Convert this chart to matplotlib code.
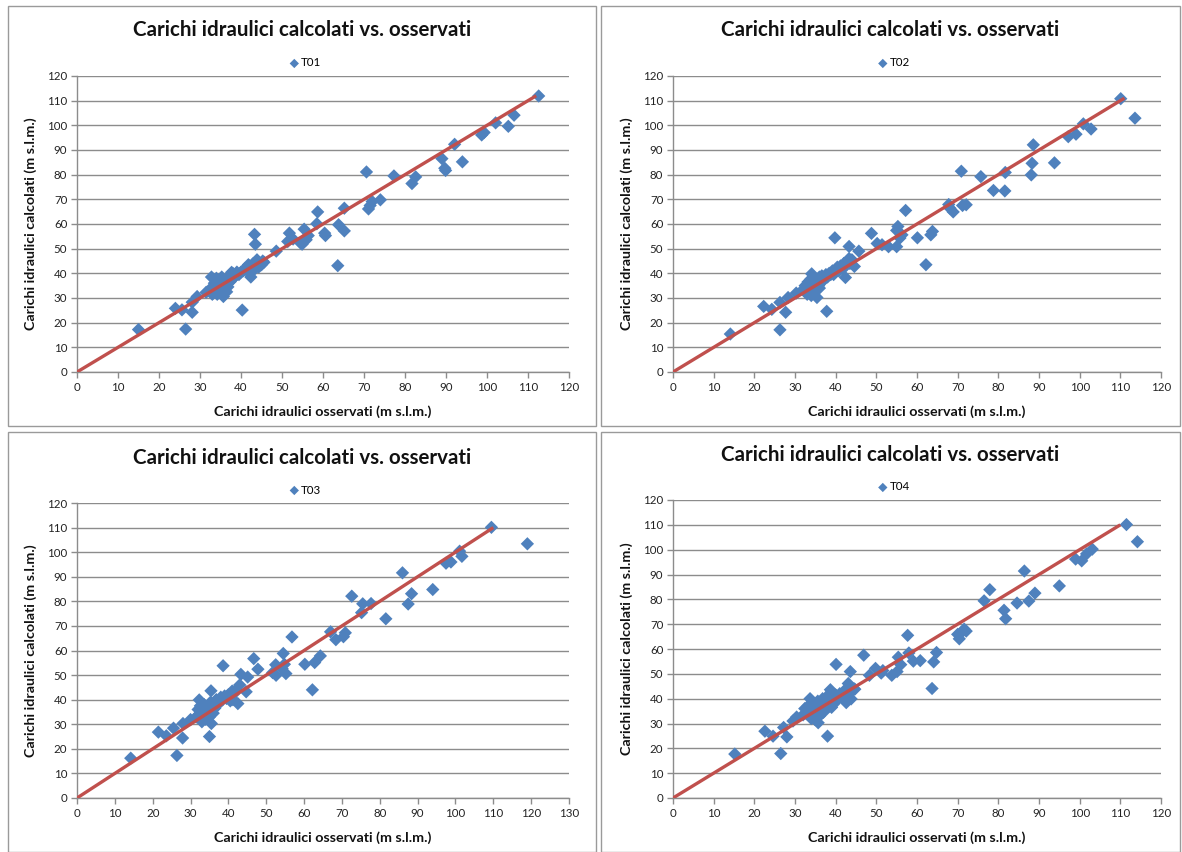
import matplotlib
matplotlib.use("Agg")
import matplotlib.pyplot as plt
from matplotlib.patches import Rectangle

# ---------------- data ----------------
title = "Carichi idraulici calcolati vs. osservati"
xlabel = "Carichi idraulici osservati (m s.l.m.)"
ylabel = "Carichi idraulici calcolati (m s.l.m.)"
series_names = ["T01", "T02", "T03", "T04"]

obs_t01 = [15.0, 24.0, 25.6, 26.5, 28.1, 28.1, 29.3, 31.5, 32.8, 35.7, 37.7, 40.3, 42.4, 41.8,
           43.3, 43.5, 43.9, 48.6, 51.8, 51.4, 52.7, 54.6, 55.4, 54.9, 55.9, 56.4, 58.5, 58.7,
           60.4, 60.6, 63.8, 63.6, 65.2, 65.2, 70.6, 71.1, 71.5, 72.0, 74.0, 77.3, 81.7, 82.6,
           89.0, 89.7, 89.9, 92.1, 94.0, 98.7, 99.3, 102.1, 105.2, 106.6, 112.6,
           32.5, 33.0, 33.2, 33.5, 33.8, 34.0, 34.2, 34.5, 34.8, 35.0, 35.0, 35.3, 35.5, 35.8,
           36.0, 36.2, 36.5, 36.8, 37.0, 37.3, 37.5, 37.8, 38.0, 38.3, 38.7, 39.0, 39.5, 40.0,
           40.5, 41.0, 41.5, 42.0, 42.5, 43.0, 43.2, 43.8, 44.0, 44.3, 44.7, 45.0, 45.3, 45.6,
           34.0, 36.5, 33.0]
calc_t01 = [17.2, 25.8, 25.2, 17.4, 28.3, 24.2, 30.6, 32.3, 38.5, 30.6, 40.4, 25.1, 38.5, 43.5,
            55.8, 51.8, 45.5, 49.0, 56.3, 52.9, 53.9, 52.2, 57.9, 51.8, 53.6, 55.3, 60.1, 64.9,
            56.3, 55.3, 59.7, 43.1, 66.4, 57.2, 81.1, 66.1, 67.5, 69.1, 69.8, 79.5, 76.4, 79.1,
            86.5, 82.6, 81.7, 92.3, 85.2, 96.1, 97.1, 101.0, 99.6, 104.1, 111.9,
            33.0, 34.5, 32.0, 36.0, 33.5, 35.0, 31.5, 37.0, 34.0, 36.5, 32.5, 38.5, 35.0, 33.5,
            37.0, 35.5, 36.0, 34.5, 38.0, 36.5, 39.5, 37.5, 40.0, 38.5, 39.0, 40.5, 39.5, 40.5,
            41.0, 42.0, 41.0, 43.0, 42.0, 44.0, 41.5, 43.0, 45.0, 42.5, 44.0, 43.5, 45.0, 44.5,
            38.0, 32.5, 31.5]

obs_t02 = [14.1, 22.3, 24.3, 26.3, 26.3, 27.7, 28.3, 30.3, 34.1, 35.4, 37.8, 39.8, 42.4, 43.3,
           43.3, 44.6, 45.7, 48.8, 50.2, 51.4, 53.0, 55.0, 55.3, 55.0, 55.8, 56.3, 57.2, 60.1,
           62.2, 63.4, 63.8, 67.8, 68.1, 68.9, 70.9, 71.2, 72.1, 75.7, 78.8, 81.6, 81.7, 88.1,
           88.3, 88.6, 93.8, 97.2, 99.1, 100.9, 102.8, 110.1, 113.6,
           32.0, 32.5, 33.0, 33.2, 33.5, 33.8, 34.0, 34.3, 34.6, 35.0, 35.2, 35.5, 35.8, 36.0,
           36.3, 36.6, 37.0, 37.3, 37.6, 38.0, 38.4, 38.8, 39.2, 39.6, 40.0, 40.4, 40.8, 41.2,
           41.6, 42.0, 42.5, 43.0, 43.5, 44.0, 33.0, 34.0, 35.0, 36.0, 39.5]
calc_t02 = [15.4, 26.6, 25.4, 28.2, 17.1, 24.2, 30.2, 32.0, 39.8, 30.2, 24.6, 54.4, 38.3, 50.9,
            46.0, 42.8, 49.0, 56.2, 52.1, 51.6, 50.8, 50.8, 59.0, 57.4, 54.3, 55.6, 65.5, 54.4,
            43.5, 55.6, 57.0, 67.9, 66.4, 64.9, 81.4, 67.5, 67.8, 79.2, 73.6, 73.4, 80.9, 79.9,
            84.6, 92.1, 84.8, 95.4, 96.4, 100.6, 98.5, 110.8, 102.9,
            33.5, 35.0, 32.0, 36.5, 34.0, 37.5, 33.0, 35.5, 38.0, 34.5, 36.5, 37.0, 35.0, 38.5,
            36.0, 39.0, 37.5, 38.0, 39.5, 38.5, 40.0, 39.5, 41.0, 40.5, 41.5, 42.5, 41.0, 43.0,
            42.0, 44.0, 43.0, 44.5, 44.0, 45.5, 31.5, 31.0, 33.5, 34.0, 39.5]

obs_t03 = [14.2, 21.5, 23.6, 25.5, 26.4, 27.9, 28.0, 30.0, 32.3, 35.5, 35.0, 35.4, 38.6, 42.5,
           43.3, 43.0, 44.7, 45.1, 46.7, 47.8, 51.7, 52.5, 52.6, 54.5, 54.2, 55.2, 54.8, 56.8,
           60.2, 62.2, 62.8, 64.3, 67.0, 68.4, 70.4, 70.9, 72.6, 75.2, 75.5, 77.7, 81.6, 86.0,
           87.5, 88.4, 94.0, 97.5, 98.8, 101.1, 101.7, 109.5, 119.0,
           31.5, 32.0, 32.3, 32.6, 33.0, 33.3, 33.6, 34.0, 34.3, 34.6, 35.0, 35.3, 35.6, 36.0,
           36.4, 36.8, 37.2, 37.6, 38.0, 38.5, 39.0, 39.5, 40.0, 40.5, 41.0, 41.5, 42.0, 33.0,
           34.0, 35.0, 36.0, 40.5, 41.2]
calc_t03 = [16.2, 26.8, 25.3, 28.4, 17.3, 24.4, 30.3, 31.9, 39.9, 30.3, 25.0, 43.6, 53.8, 38.4,
            50.3, 46.0, 43.2, 49.2, 56.7, 52.4, 51.0, 54.2, 49.9, 58.8, 52.6, 50.6, 54.4, 65.5,
            54.4, 44.0, 55.1, 57.8, 67.6, 64.4, 65.6, 67.2, 82.1, 75.4, 79.0, 79.1, 72.9, 91.6,
            78.9, 83.1, 84.8, 95.5, 96.0, 100.4, 98.3, 110.1, 103.4,
            33.0, 36.0, 34.0, 37.5, 32.5, 35.5, 38.0, 33.5, 36.5, 34.5, 37.0, 39.0, 35.5, 38.5,
            36.5, 40.0, 38.0, 39.5, 41.0, 40.0, 41.5, 40.5, 42.0, 41.5, 43.5, 42.5, 44.0, 31.0,
            32.0, 33.0, 34.5, 39.5, 40.0]

obs_t04 = [15.2, 22.6, 24.6, 26.5, 27.2, 28.0, 29.5, 30.4, 33.7, 35.7, 38.0, 38.7, 40.1, 42.6,
           43.1, 43.6, 43.8, 44.7, 46.9, 48.3, 49.8, 51.2, 51.6, 53.8, 55.1, 55.4, 56.0, 57.7,
           58.0, 59.1, 60.8, 63.7, 64.1, 64.8, 70.0, 70.4, 70.9, 71.6, 72.1, 76.5, 77.9, 81.4,
           81.8, 84.6, 86.4, 87.5, 89.0, 95.0, 99.0, 100.5, 101.7, 103.1, 111.5, 114.2,
           32.0, 32.4, 32.8, 33.2, 33.6, 34.0, 34.4, 34.8, 35.2, 35.6, 36.0, 36.4, 36.8, 37.2,
           37.6, 38.0, 38.4, 38.8, 39.2, 39.6, 40.0, 40.5, 41.0, 41.5, 42.0, 42.5, 43.5, 44.0,
           44.5, 34.0, 35.0, 36.0, 37.0, 38.5, 39.0]
calc_t04 = [17.7, 26.9, 24.9, 17.9, 28.4, 24.6, 31.0, 32.6, 40.0, 30.3, 24.9, 43.6, 53.8, 38.4,
            46.1, 50.9, 39.9, 43.8, 57.5, 49.4, 52.2, 50.3, 51.3, 49.4, 50.9, 56.7, 53.7, 65.5,
            58.4, 55.1, 55.3, 44.1, 54.8, 58.6, 65.9, 64.1, 66.6, 68.0, 67.2, 79.4, 83.9, 75.6,
            72.2, 78.5, 91.4, 79.3, 82.5, 85.4, 96.2, 95.5, 98.3, 100.2, 110.1, 103.2,
            33.5, 36.0, 34.0, 37.0, 35.0, 33.0, 38.0, 36.5, 34.5, 39.0, 37.5, 35.5, 40.0, 38.5,
            36.5, 41.0, 39.0, 42.5, 40.5, 38.0, 41.5, 40.0, 42.0, 41.0, 43.0, 42.0, 44.5, 43.5,
            44.0, 32.0, 31.5, 33.0, 34.5, 37.0, 36.5]

line_end = [112, 111, 110, 110]
x_max = [120, 120, 130, 120]
y_max = [120, 120, 120, 120]

obs_all = [obs_t01, obs_t02, obs_t03, obs_t04]
calc_all = [calc_t01, calc_t02, calc_t03, calc_t04]

# ---------------- layout ----------------
W, H = 1182, 852
fig = plt.figure(figsize=(W / 100, H / 100), dpi=100)
fig.patch.set_facecolor("white")

FONT = "Lato"
BLUE = "#4F81BD"
RED = "#C0504D"
GRID = "#8C8C8C"

def frac_box(l, t, r, b):
    return [l / W, 1 - b / H, (r - l) / W, (b - t) / H]

panel_boxes = [(8, 6, 596, 426), (601, 6, 1180, 426), (8, 432, 596, 852), (601, 432, 1180, 852)]
axes_boxes = [(77, 76, 569, 372), (673, 76, 1161, 372), (77, 503, 569, 798), (673, 500, 1161, 798)]
title_y = [30, 30, 458, 455]
legend_y = [63, 63, 490, 487]

for i in range(4):
    pl, pt, pr, pb = panel_boxes[i]
    fig.add_artist(Rectangle((pl / W, 1 - pb / H), (pr - pl) / W, (pb - pt) / H,
                             transform=fig.transFigure, fill=False, edgecolor="#9A9A9A",
                             linewidth=1.0))
    l, t, r, b = axes_boxes[i]
    ax = fig.add_axes(frac_box(l, t, r, b))
    ax.set_xlim(0, x_max[i])
    ax.set_ylim(0, y_max[i])
    ax.set_xticks(range(0, x_max[i] + 1, 10))
    ax.set_yticks(range(0, y_max[i] + 1, 10))
    ax.grid(axis="y", color=GRID, linewidth=1.0)
    ax.set_axisbelow(True)
    for s in ["top", "right"]:
        ax.spines[s].set_visible(False)
    for s in ["left", "bottom"]:
        ax.spines[s].set_color(GRID)
        ax.spines[s].set_linewidth(1.0)
    ax.tick_params(axis="both", direction="out", length=4, width=1.0, color=GRID,
                   labelsize=8.3, labelcolor="#222222", pad=3)
    for lab in ax.get_xticklabels() + ax.get_yticklabels():
        lab.set_family(FONT)

    sc = ax.scatter(obs_all[i], calc_all[i], marker="D", s=46, color=BLUE,
                    edgecolors="none", zorder=3, label=series_names[i])
    ax.plot([0, line_end[i]], [0, line_end[i]], color=RED, linewidth=2.4, zorder=4,
            solid_capstyle="butt")

    ax.set_xlabel(xlabel, fontsize=10.3, fontweight="bold", family=FONT, labelpad=9,
                  color="#111111")
    ax.set_ylabel(ylabel, fontsize=10.3, fontweight="bold", family=FONT, labelpad=7,
                  color="#111111")

    cx = (pl + pr) / 2
    fig.text(cx / W, 1 - title_y[i] / H, title, ha="center", va="center",
             fontsize=14.8, fontweight="bold", family=FONT, color="#111111")
    leg = fig.legend(handles=[sc], labels=[series_names[i]], loc="center",
                     bbox_to_anchor=((cx + 3) / W, 1 - legend_y[i] / H),
                     frameon=False, handletextpad=0.1,
                     handlelength=1.0, borderpad=0, prop={"family": FONT, "size": 8.3},
                     markerscale=0.7)

fig.savefig("out.png", dpi=100, facecolor="white")
